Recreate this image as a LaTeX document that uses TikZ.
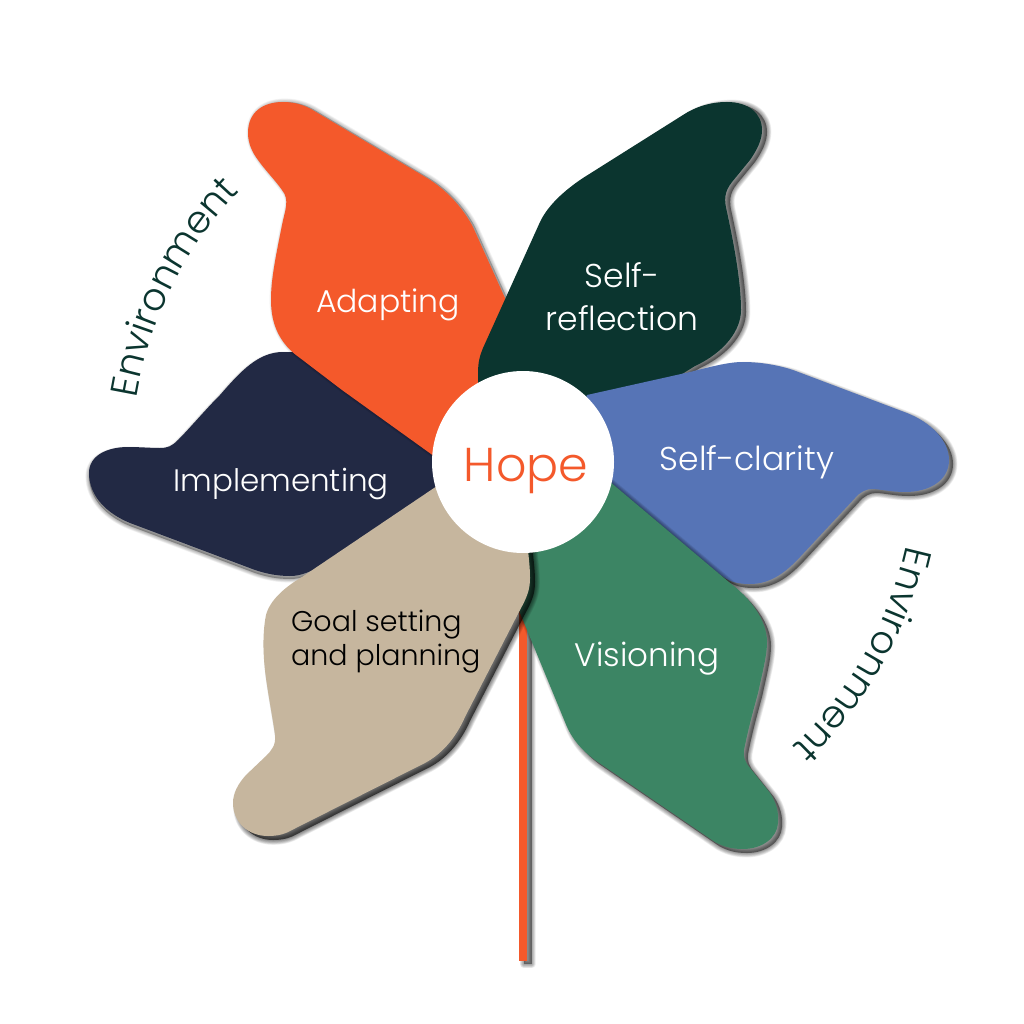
\documentclass[tikz,border=0pt]{standalone}
\usepackage{fontspec}
\setmainfont{Poppins}[UprightFont=* Light]
\usetikzlibrary{decorations.text}
\definecolor{cOrange}{HTML}{F4592B}
\definecolor{cDark}{HTML}{0B352F}
\definecolor{cBlue}{HTML}{5674B6}
\definecolor{cGreen}{HTML}{3C8564}
\definecolor{cBeige}{HTML}{C6B69E}
\definecolor{cNavy}{HTML}{222944}
\newcommand{\pOrange}{(248,133) .. controls (248,112) and (263,102) .. (283,102) .. controls (295,102) and (305,105) .. (316,112) -- (427,178) .. controls (445,189) and (462,206) .. (473,227) -- (505,298) -- (530,350) -- (500,440) -- (470,482) -- (342,390) -- (300,358) .. controls (280,344) and (271,325) .. (271,300) .. controls (271,280) and (275,260) .. (282,225) .. controls (285,210) and (290,200) .. (282,190) .. controls (275,180) and (265,170) .. (258,160) .. controls (252,152) and (248,143) .. (248,133) -- cycle}
\newcommand{\pDark}{(478,385) -- (478,373) .. controls (478,362) and (480,355) .. (483,348) -- (540,222) .. controls (548,205) and (565,190) .. (583,178) -- (683,115) .. controls (695,107) and (710,102) .. (727,102) .. controls (748,102) and (762,113) .. (762,130) .. controls (762,140) and (757,150) .. (750,160) -- (732,182) .. controls (724,192) and (724,200) .. (727,212) .. controls (733,240) and (741,280) .. (741,310) .. controls (741,330) and (725,352) .. (695,366) -- (640,400) -- (560,440) -- (500,420) -- cycle}
\newcommand{\pBlue}{(587,395) -- (690,372) .. controls (710,367) and (728,362) .. (743,362) .. controls (760,362) and (778,365) .. (793,370) -- (907,413) .. controls (930,422) and (949,440) .. (949,460) .. controls (949,480) and (930,492) .. (905,492) .. controls (890,492) and (880,489) .. (872,489) .. controls (866,489) and (860,492) .. (855,498) -- (800,557) .. controls (785,573) and (770,584) .. (750,584) .. controls (738,584) and (730,582) .. (722,576) -- (650,530) -- (560,470) -- cycle}
\newcommand{\pGreen}{(590,465) -- (730,583) .. controls (750,598) and (767,620) .. (767,642) .. controls (767,655) and (763,670) .. (758,693) .. controls (752,715) and (748,730) .. (744,750) .. controls (743,757) and (745,762) .. (750,768) -- (770,793) .. controls (776,802) and (779,812) .. (778,823) .. controls (777,838) and (762,849) .. (743,849) .. controls (732,849) and (724,847) .. (715,842) -- (595,760) .. controls (582,750) and (572,740) .. (565,722) -- (520,613) -- (500,560) -- (520,500) -- cycle}
\newcommand{\pBeige}{(480,457) -- (302,577) .. controls (285,587) and (270,600) .. (266,615) .. controls (262,635) and (263,660) .. (267,685) .. controls (270,705) and (273,720) .. (275,735) .. controls (276,745) and (272,750) .. (266,756) -- (246,775) .. controls (238,784) and (233,793) .. (233,803) .. controls (233,822) and (248,836) .. (268,836) .. controls (278,836) and (285,834) .. (292,830) -- (425,763) .. controls (440,755) and (455,740) .. (465,717) -- (520,610) .. controls (527,597) and (530,590) .. (530,578) .. controls (530,568) and (529,560) .. (528,550) -- (540,480) -- cycle}
\newcommand{\pNavy}{(292,352) -- (360,370) -- (470,470) -- (400,520) -- (330,560) .. controls (310,573) and (300,576) .. (290,576) .. controls (278,576) and (267,574) .. (255,570) -- (130,523) .. controls (108,514) and (89,497) .. (89,473) .. controls (89,455) and (108,447) .. (128,447) .. controls (140,447) and (150,448) .. (160,448) .. controls (168,448) and (172,446) .. (178,440) .. controls (190,428) and (205,410) .. (220,395) .. controls (240,372) and (258,352) .. (283,352) -- cycle}
\newcommand{\pStem}{(519,600) rectangle (526.5,961)}
% path, colour, shadow dx, shadow dy, layer strength, body strength, blur per layer
\newcommand{\petal}[7]{%
  \fill[black,opacity=#6,shift={(#3,#4)}] #1;
  \foreach \k in {1,...,8}{\draw[black,opacity=#5,line join=round,line width=\k*#7 pt,shift={(#3,#4)}] #1;}
  \fill[#2] #1;}
\tikzset{
  label/.style={text=white,inner sep=0pt,anchor=base},
  envtext/.style={decorate,decoration={text along path,text align=center,
    text={|\fontsize{38}{38}\selectfont\color{cDark}|Environment}}}
}
\newcommand{\fs}[1]{\fontsize{#1}{#1}\selectfont}
\begin{document}
\begin{tikzpicture}[x=1pt,y=-1pt]
\useasboundingbox (0,0) rectangle (1024,1024);
\fill[white] (0,0) rectangle (1024,1024);
\petal{\pNavy}{cNavy}{0}{3}{0.04}{0.3}{0.9}
\petal{\pOrange}{cOrange}{2}{0}{0.03}{0.25}{0.9}
\petal{\pDark}{cDark}{5}{2}{0.06}{0.45}{1.1}
\petal{\pBlue}{cBlue}{4}{4}{0.06}{0.45}{1.1}
\petal{\pStem}{cOrange}{5}{3}{0.05}{0.4}{1.1}
\petal{\pGreen}{cGreen}{4}{4}{0.06}{0.45}{1.1}
\petal{\pBeige}{cBeige}{5}{4}{0.07}{0.6}{1.2}
\node[fill=white,circle,minimum size=182pt,inner sep=0pt] (hub) at (523,462) {};
\node[label,text=cOrange,font=\fs{47.5}] (hope) at (526,481) {Hope};
\node[label,font=\fs{31.5}] (adapting) at (388,312) {Adapting};
\node[label,font=\fs{33}] (self) at (622,287) {Self-};
\node[label,font=\fs{33}] (reflect) at (622,330) {reflection};
\node[label,font=\fs{33}] (clarity) at (747,470) {Self-clarity};
\node[label,font=\fs{32.5}] (vision) at (647,666) {Visioning};
\node[label,font=\fs{31}] (impl) at (281,491) {Implementing};
\node[label,text=black,font=\fs{28.5},anchor=base west] (goalA) at (291,631) {Goal setting};
\node[label,text=black,font=\fs{28.5},anchor=base west] (goalB) at (291,665) {and planning};
\path[envtext] (hub) ++(-172:392) arc[start angle=-172,end angle=-135,radius=392];
\path[envtext] (hub) ++(11:392) arc[start angle=11,end angle=48,radius=392];
\end{tikzpicture}
\end{document}
